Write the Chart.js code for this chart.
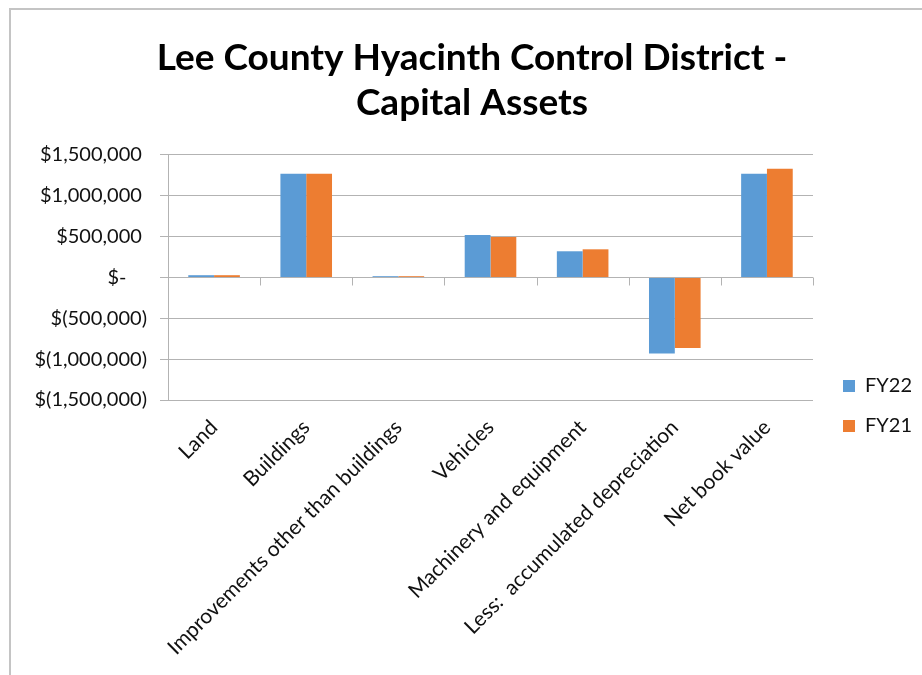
<!DOCTYPE html>
<html>
<head>
<meta charset="utf-8">
<script src="https://cdn.jsdelivr.net/npm/chart.js@4/dist/chart.umd.min.js"></script>
<style>
  html, body { margin: 0; padding: 0; background: #fff; overflow: hidden; }
  #wrap { position: relative; width: 922px; height: 675px; }
  #frame { position: absolute; left: 9px; top: 8px; width: 1000px; height: 1000px;
           border-left: 2px solid #c4c4c4; border-top: 2px solid #c4c4c4; pointer-events: none; }
  canvas { position: absolute; left: 0; top: 0; }
</style>
</head>
<body>
<div id="wrap">
  <canvas id="c" width="922" height="675"></canvas>
  <div id="frame"></div>
</div>
<script>
const titleLines = ['Lee County Hyacinth Control District -', 'Capital Assets'];
const categories = ['Land', 'Buildings', 'Improvements other than buildings', 'Vehicles',
  'Machinery and equipment', 'Less:  accumulated depreciation', 'Net book value'];
const seriesNames = ['FY22', 'FY21'];
const fy22 = [28000, 1270000, 16000, 519000, 321000, -930000, 1270000];
const fy21 = [28000, 1270000, 16000, 495000, 345000, -862000, 1331000];
const yMin = -1500000, yMax = 1500000, yStep = 500000;

const FONT = 'Lato, "Open Sans", sans-serif';

function fmtMoney(v) {
  if (v === 0) return '$-    ';
  const s = Math.abs(v).toLocaleString('en-US');
  return v < 0 ? '$(' + s + ')' : '$' + s + ' ';
}

const zeroTicks = {
  id: 'zeroTicks',
  afterDatasetsDraw(chart) {
    const x = chart.scales.x, y = chart.scales.y;
    const y0 = y.getPixelForValue(0);
    const n = categories.length;
    const ctx = chart.ctx;
    ctx.save();
    ctx.strokeStyle = '#b3b3b3';
    ctx.lineWidth = 1;
    ctx.beginPath();
    for (let i = 1; i <= n; i++) {
      const px = Math.round(x.left + i * x.width / n) + 0.5;
      ctx.moveTo(px, y0);
      ctx.lineTo(px, y0 + 8);
    }
    ctx.stroke();
    ctx.restore();
  }
};

new Chart(document.getElementById('c'), {
  type: 'bar',
  data: {
    labels: categories,
    datasets: [
      { label: seriesNames[0], data: fy22, backgroundColor: '#5B9BD5', borderWidth: 0 },
      { label: seriesNames[1], data: fy21, backgroundColor: '#ED7D31', borderWidth: 0 }
    ]
  },
  options: {
    responsive: false,
    animation: false,
    devicePixelRatio: 1,
    categoryPercentage: 0.56,
    barPercentage: 1.0,
    layout: { padding: { left: 22, right: 0, top: 0, bottom: 20 } },
    plugins: {
      title: {
        display: true,
        text: titleLines,
        color: '#000',
        font: { family: FONT, size: 37, weight: 'bold', lineHeight: 1.216 },
        padding: { top: 35.5, bottom: 29.5 }
      },
      legend: {
        display: true,
        position: 'right',
        title: { display: true, text: '', font: { size: 10, lineHeight: 1.2 }, padding: { top: 145, bottom: 0 } },
        labels: {
          boxWidth: 12, boxHeight: 12, padding: 20,
          color: '#111',
          font: { family: FONT, size: 20 }
        }
      },
      tooltip: { enabled: false }
    },
    scales: {
      x: {
        type: 'category',
        offset: true,
        grid: { display: false, drawTicks: false },
        border: { display: false },
        ticks: {
          autoSkip: false, minRotation: 45, maxRotation: 45, padding: 15,
          color: '#111', font: { family: FONT, size: 21 }
        },
        afterFit(s) { s.height = 255; }
      },
      y: {
        min: yMin, max: yMax,
        grid: { color: '#b3b3b3', lineWidth: 1, tickLength: 8, drawTicks: true },
        border: { display: true, color: '#b3b3b3', width: 1 },
        ticks: {
          stepSize: yStep, padding: 13,
          color: '#111', font: { family: FONT, size: 20 },
          callback: (v) => fmtMoney(v)
        },
        afterFit(s) { s.width = 146; }
      },
      gap: {
        position: 'right', type: 'linear', display: true,
        grid: { display: false }, border: { display: false }, ticks: { display: false },
        afterFit(s) { s.width = 10; }
      }
    }
  },
  plugins: [zeroTicks]
});
</script>
</body>
</html>
